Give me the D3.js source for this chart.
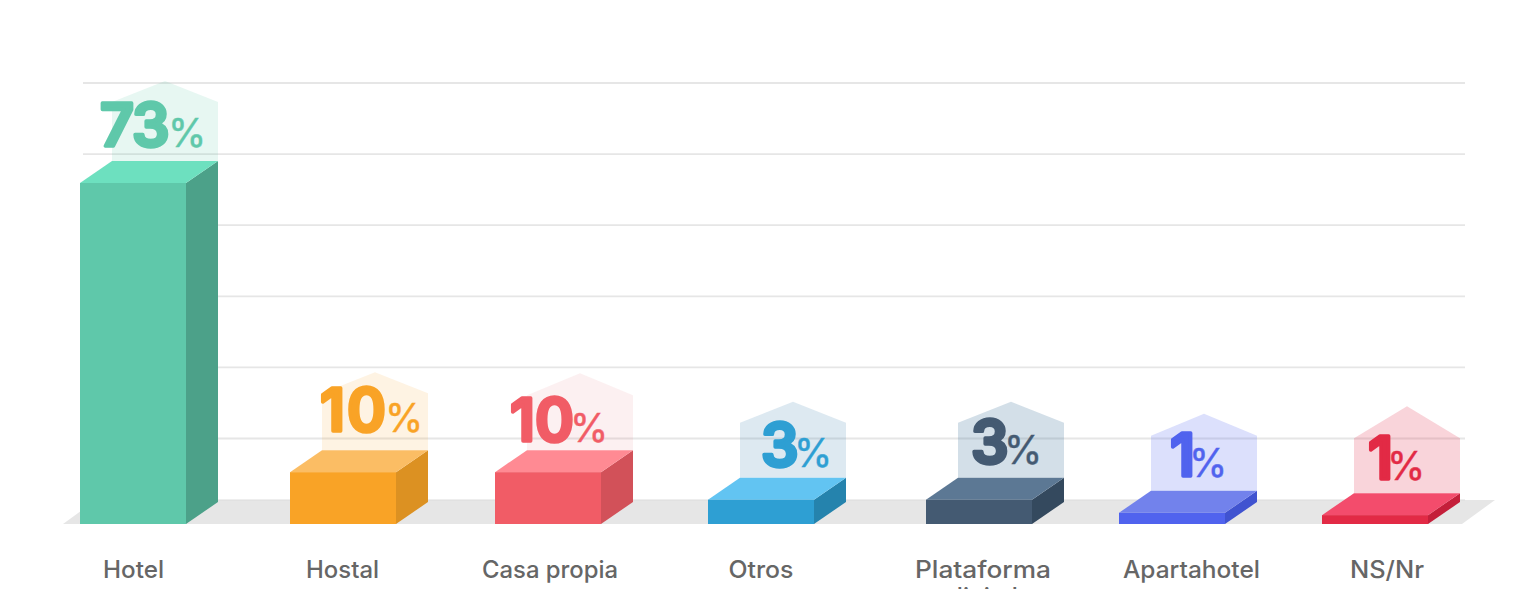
<!DOCTYPE html>
<html>
<head>
<meta charset="utf-8">
<script src="https://cdn.jsdelivr.net/npm/d3@7"></script>
<style>
  html, body { margin: 0; background: #fff; overflow: hidden; }
  text { font-family: Inter, "Open Sans", sans-serif; }
</style>
</head>
<body>
<svg></svg>
<script>
const width = 1535
const height = 589

const categories = ['Hotel', 'Hostal', 'Casa propia', 'Otros', 'Plataforma digital', 'Apartahotel', 'NS/Nr']
// height of each block as drawn (the small blocks are drawn taller than their share)
const barValues = [73, 11.1, 11.1, 5.2, 5.2, 2.4, 1.9]
const percentLabels = [73, 10, 10, 3, 3, 1, 1]
const gridTicks = [10, 20, 30, 40, 50, 60]

const frontColors = ['#5fc8aa', '#f9a326', '#f15c66', '#2e9fd3', '#445a72', '#5063ee', '#e22a45']
const sideColors = ['#4ca189', '#dc9122', '#d25159', '#2583ad', '#34495e', '#4053d0', '#c41f3a']
const topColors = ['#6de0bf', '#fbbd64', '#ff8a93', '#62c4f2', '#5c7894', '#7282ec', '#f34c6c']
const houseColors = ['#5fc8aa', '#f9a326', '#e16973', '#2b75a7', '#235f8c', '#5063ee', '#e22a45']
const houseOpacity = [0.15, 0.13, 0.1, 0.16, 0.2, 0.2, 0.2]

const barW = 106
const depthX = 32
const depthY = 22

const ordinal = range => d3.scaleOrdinal().domain(categories).range(range)
const x = ordinal([80, 290, 495, 708, 926, 1119, 1322])
const labelX = ordinal([133.5, 342.5, 550, 761, 983, 1191.5, 1387])
const labelW = ordinal([61, 73, 136, 65, 136, 137, 74])
const numX = ordinal([100, 320, 510, 761, 971, 1170, 1368])
const numGap = ordinal([-1, 2, 0, -8, -8, -14, -14])
const pctX = ordinal([168, 385, 570, 794, 1004, 1189, 1387])
const numY = ordinal([147, 432, 442, 467, 464, 477, 480])
const wall = ordinal([59, 57, 55, 55, 55, 55, 55])
const roof = ordinal([21, 21, 22, 21, 21, 22, 32])
const y = d3.scaleLinear().domain([0, 73]).range([524, 183])
const gridY = d3.scaleLinear().domain([10, 60]).range([438.5, 83])

const rows = categories.map((name, i) => ({
  name,
  i,
  value: barValues[i],
  pct: percentLabels[i]
}))

const svg = d3.select('svg')
  .attr('width', width)
  .attr('height', height)
  .style('display', 'block')

// grid
svg.append('g').selectAll('line')
  .data(gridTicks)
  .join('line')
  .attr('x1', 83)
  .attr('x2', 1465)
  .attr('y1', d => gridY(d))
  .attr('y2', d => gridY(d))
  .attr('stroke', '#e6e6e6')
  .attr('stroke-width', 1.8)

// floor
svg.append('path')
  .attr('d', d3.line()([[63, 524], [96, 500], [1495, 500], [1462, 524]]) + 'Z')
  .attr('fill', '#e6e6e6')
svg.append('line')
  .attr('x1', 96).attr('x2', 1465)
  .attr('y1', 500).attr('y2', 500)
  .attr('stroke', '#dcdcdc')

const bar = svg.append('g').selectAll('g')
  .data(rows)
  .join('g')

// ghost house behind the number
bar.append('path')
  .attr('d', d => {
    const l = x(d.name) + depthX
    const r = l + barW
    const b = y(d.value) - depthY
    const s = b - wall(d.name)
    return d3.line()([[l, b], [l, s], [l + barW / 2, s - roof(d.name)], [r, s], [r, b]]) + 'Z'
  })
  .attr('fill', d => houseColors[d.i])
  .attr('fill-opacity', d => houseOpacity[d.i])

// side face
bar.append('path')
  .attr('d', d => {
    const r = x(d.name) + barW
    return d3.line()([[r, y(d.value)], [r + depthX, y(d.value) - depthY], [r + depthX, y(0) - depthY], [r, y(0)]]) + 'Z'
  })
  .attr('fill', d => sideColors[d.i])

// top face
bar.append('path')
  .attr('d', d => {
    const l = x(d.name)
    const t = y(d.value)
    return d3.line()([[l, t], [l + depthX, t - depthY], [l + barW + depthX, t - depthY], [l + barW, t]]) + 'Z'
  })
  .attr('fill', d => topColors[d.i])

// front face
bar.append('rect')
  .attr('x', d => x(d.name))
  .attr('y', d => y(d.value))
  .attr('width', barW)
  .attr('height', d => y(0) - y(d.value))
  .attr('fill', d => frontColors[d.i])

// percent numbers, stroke with round joins to soften the digits
bar.append('text')
  .attr('x', d => numX(d.name))
  .attr('y', d => numY(d.name) - 1)
  .attr('fill', d => frontColors[d.i])
  .attr('stroke', d => frontColors[d.i])
  .attr('stroke-width', 3.5)
  .attr('stroke-linejoin', 'round')
  .style('font-size', '59px')
  .style('font-weight', 600)
  .style('letter-spacing', d => numGap(d.name) + 'px')
  .text(d => d.pct)

bar.append('text')
  .attr('x', d => pctX(d.name))
  .attr('y', d => numY(d.name))
  .attr('fill', d => frontColors[d.i])
  .attr('stroke', d => frontColors[d.i])
  .attr('stroke-width', 0.4)
  .style('font-size', '39px')
  .style('font-weight', 400)
  .text('%')

// category names, the long one wraps and runs off the bottom
const names = svg.append('g').selectAll('text')
  .data(rows)
  .join('text')
  .attr('text-anchor', 'middle')
  .attr('y', 578)
  .attr('fill', '#666')
  .style('font-size', '24px')
  .style('font-weight', 500)

names.selectAll('tspan')
  .data(d => {
    const words = d.name === 'Plataforma digital' ? d.name.split(' ') : [d.name]
    return words.map(w => ({ w, cx: labelX(d.name), len: labelW(d.name) }))
  })
  .join('tspan')
  .attr('x', d => d.cx)
  .attr('dy', (d, i) => i ? 27 : 0)
  .attr('textLength', (d, i) => i ? null : d.len)
  .attr('lengthAdjust', 'spacingAndGlyphs')
  .text(d => d.w)
</script>
</body>
</html>
